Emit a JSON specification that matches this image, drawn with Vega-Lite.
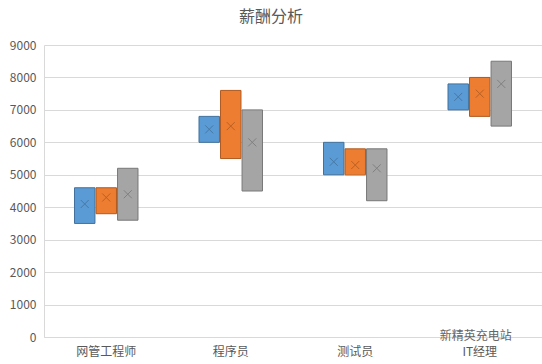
{
  "$schema": "https://vega.github.io/schema/vega-lite/v6.json",
  "autosize": {"type": "none"},
  "width": 498,
  "height": 292,
  "padding": {"left": 44, "top": 45, "right": 0, "bottom": 27},
  "background": "white",
  "title": {"text": "薪酬分析", "font": "Noto Sans CJK SC", "fontSize": 16, "fontWeight": "normal", "color": "#595959", "anchor": "middle", "dx": -22, "offset": 14},
  "config": {
    "view": {"stroke": null},
    "font": "Noto Sans CJK SC",
    "axis": {"labelFont": "Noto Sans CJK SC", "labelFontSize": 12, "labelColor": "#595959", "domainColor": "#d9d9d9", "gridColor": "#d9d9d9", "ticks": false, "title": null}
  },
  "data": {"values": [
    {"role": "网管工程师", "series": "系列1", "min": 3500, "max": 4600, "median": 4200, "mean": 4100},
    {"role": "网管工程师", "series": "系列2", "min": 3800, "max": 4600, "median": 4450, "mean": 4300},
    {"role": "网管工程师", "series": "系列3", "min": 3600, "max": 5200, "median": 4400, "mean": 4400},
    {"role": "程序员", "series": "系列1", "min": 6000, "max": 6800, "median": 6500, "mean": 6400},
    {"role": "程序员", "series": "系列2", "min": 5500, "max": 7600, "median": 6500, "mean": 6500},
    {"role": "程序员", "series": "系列3", "min": 4500, "max": 7000, "median": 6600, "mean": 6000},
    {"role": "测试员", "series": "系列1", "min": 5000, "max": 6000, "median": 5200, "mean": 5400},
    {"role": "测试员", "series": "系列2", "min": 5000, "max": 5800, "median": 5000, "mean": 5300},
    {"role": "测试员", "series": "系列3", "min": 4200, "max": 5800, "median": 5600, "mean": 5200},
    {"role": "IT经理", "series": "系列1", "min": 7000, "max": 7800, "median": 7750, "mean": 7400},
    {"role": "IT经理", "series": "系列2", "min": 6800, "max": 8000, "median": 7700, "mean": 7500},
    {"role": "IT经理", "series": "系列3", "min": 6500, "max": 8500, "median": 8400, "mean": 7800}
  ]},
  "encoding": {
    "x": {"field": "role", "type": "nominal", "sort": ["网管工程师", "程序员", "测试员", "IT经理"],
          "scale": {"paddingInner": 0.49, "paddingOuter": 0.245},
          "axis": {"labelAngle": 0, "labelPadding": 9, "grid": false}},
    "xOffset": {"field": "series", "type": "nominal", "scale": {"paddingInner": 0.05}}
  },
  "layer": [
    {
      "mark": {"type": "bar", "strokeWidth": 1},
      "encoding": {
        "y": {"field": "min", "type": "quantitative", "scale": {"domain": [0, 9000]},
              "axis": {"values": [0,1000,2000,3000,4000,5000,6000,7000,8000,9000], "format": "d", "labelPadding": 8, "grid": true, "domain": true}},
        "y2": {"field": "max"},
        "color": {"field": "series", "type": "nominal", "legend": null,
                  "scale": {"domain": ["系列1", "系列2", "系列3"], "range": ["#5B9BD5", "#ED7D31", "#A5A5A5"]}},
        "stroke": {"field": "series", "type": "nominal", "legend": null,
                   "scale": {"domain": ["系列1", "系列2", "系列3"], "range": ["#41719C", "#AE5A21", "#787878"]}}
      }
    },
    {
      "mark": {"type": "tick", "orient": "horizontal", "thickness": 1, "size": 19},
      "encoding": {
        "y": {"field": "median", "type": "quantitative", "scale": {"domain": [0, 9000]},
              "axis": {"values": [0,1000,2000,3000,4000,5000,6000,7000,8000,9000], "format": "d", "labelPadding": 8, "grid": true, "domain": true}},
        "color": {"field": "series", "type": "nominal", "legend": null,
                  "scale": {"domain": ["系列1", "系列2", "系列3"], "range": ["#41719C", "#AE5A21", "#787878"]}}
      }
    },
    {
      "mark": {"type": "point", "shape": "M-1,-1L1,1M1,-1L-1,1", "filled": false, "size": 64, "strokeWidth": 1, "opacity": 0.8},
      "encoding": {
        "y": {"field": "mean", "type": "quantitative", "scale": {"domain": [0, 9000]},
              "axis": {"values": [0,1000,2000,3000,4000,5000,6000,7000,8000,9000], "format": "d", "labelPadding": 8, "grid": true, "domain": true}},
        "stroke": {"field": "series", "type": "nominal", "legend": null,
                   "scale": {"domain": ["系列1", "系列2", "系列3"], "range": ["#41719C", "#AE5A21", "#787878"]}}
      }
    },
    {
      "data": {"values": [{"role": "IT经理", "label": "新精英充电站"}]},
      "mark": {"type": "text", "fontSize": 12, "color": "#666666", "align": "left", "baseline": "middle", "dx": -40, "dy": -1},
      "encoding": {
        "x": {"field": "role", "type": "nominal"},
        "xOffset": null,
        "y": {"datum": 0, "type": "quantitative", "scale": {"domain": [0, 9000]},
              "axis": {"values": [0,1000,2000,3000,4000,5000,6000,7000,8000,9000], "format": "d", "labelPadding": 8, "grid": true, "domain": true}},
        "text": {"field": "label"}
      }
    }
  ]
}
